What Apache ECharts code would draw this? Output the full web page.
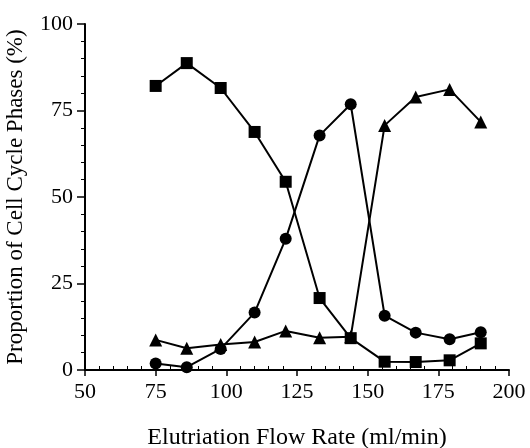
<!DOCTYPE html>
<html><head><meta charset="utf-8">
<script src="https://cdn.jsdelivr.net/npm/echarts@6/dist/echarts.min.js"></script>
<style>html,body{margin:0;padding:0;background:#fff}#c{width:530px;height:448px}</style>
</head><body><div id="c"></div>
<script>
var flowRates = [75, 86, 98, 110, 121, 133, 144, 156, 167, 179, 190];
var squareSeries = [82.1, 88.7, 81.5, 68.8, 54.4, 20.8, 9.2, 2.4, 2.3, 2.8, 7.7];
var circleSeries = [1.9, 0.8, 6.1, 16.6, 37.9, 67.8, 76.8, 15.7, 10.8, 8.9, 10.9];
var triangleSeries = [8.7, 6.3, 7.4, 8.1, 11.3, 9.3, 9.6, 70.7, 78.9, 81.1, 71.7];
var xTicks = [50, 75, 100, 125, 150, 175, 200];
var yTicks = [0, 25, 50, 75, 100];

function pairs(vals){ return flowRates.map(function(x,i){ return [x, vals[i]]; }); }
var font = 'Liberation Serif';
var chart = echarts.init(document.getElementById('c'), null, {renderer:'canvas'});
function mkSeries(vals, symbol, size){
  return {type:'line', data:pairs(vals), symbol:symbol, symbolSize:size, showSymbol:true,
    lineStyle:{color:'#000', width:2}, itemStyle:{color:'#000'}, animation:false, z:3};
}
chart.setOption({
  backgroundColor:'#fff',
  animation:false,
  grid:{left:85, right:21, top:24, bottom:78, containLabel:false, outerBoundsMode:'none'},
  xAxis:{type:'value', min:xTicks[0], max:xTicks[xTicks.length-1], interval:25,
    name:'Elutriation Flow Rate (ml/min)', nameLocation:'middle', nameGap:56,
    nameTextStyle:{fontFamily:font, fontSize:24, color:'#000'},
    axisLine:{show:true, lineStyle:{color:'#000', width:2}},
    axisTick:{show:true, length:6, lineStyle:{color:'#000', width:1.5}},
    minorTick:{show:true, splitNumber:5, length:-4, lineStyle:{color:'#000', width:1}},
    splitLine:{show:false},
    axisLabel:{fontFamily:font, fontSize:22, color:'#000', margin:11}},
  yAxis:{type:'value', min:yTicks[0], max:yTicks[yTicks.length-1], interval:25,
    name:'Proportion of Cell Cycle Phases (%)', nameLocation:'middle', nameGap:58,
    nameTextStyle:{fontFamily:font, fontSize:23, color:'#000'},
    axisLine:{show:true, lineStyle:{color:'#000', width:2}},
    axisTick:{show:true, length:8, lineStyle:{color:'#000', width:1.5}},
    minorTick:{show:true, splitNumber:5, length:4, lineStyle:{color:'#000', width:1}},
    splitLine:{show:false},
    axisLabel:{fontFamily:font, fontSize:22, color:'#000', margin:12}},
  series:[
    mkSeries(squareSeries, 'rect', 12),
    mkSeries(circleSeries, 'circle', 12),
    mkSeries(triangleSeries, 'triangle', 13)
  ]
});
</script></body></html>
